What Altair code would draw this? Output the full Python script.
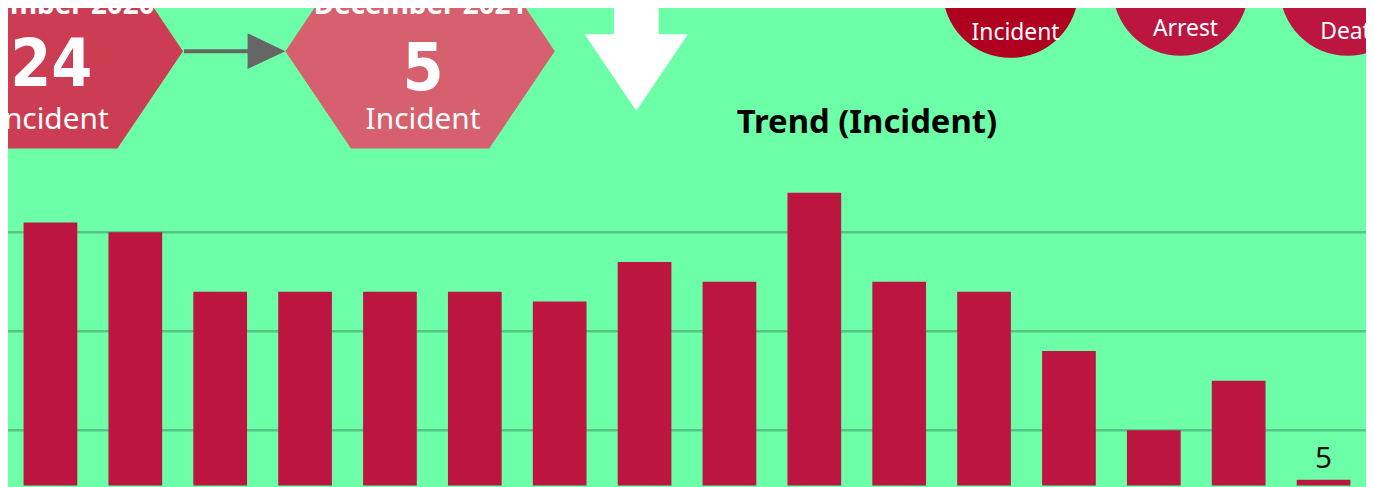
import altair as alt
import pandas as pd

# ---------------- data ----------------
months = ["Sep 2020", "Oct 2020", "Nov 2020", "Dec 2020", "Jan 2021", "Feb 2021",
          "Mar 2021", "Apr 2021", "May 2021", "Jun 2021", "Jul 2021", "Aug 2021",
          "Sep 2021", "Oct 2021", "Nov 2021", "Dec 2021"]
incidents = [31, 30, 24, 24, 24, 24, 23, 27, 25, 34, 25, 24, 18, 10, 15, 5]
grid_values = [10, 20, 30]

compare_months = ["December 2020", "December 2021"]
compare_counts = [24, 5]
compare_unit = "Incident"

total_labels = ["Incident", "Arrest", "Death"]
total_values = [234, 332, 52]

chart_title = "Trend (Incident)"

# ---------------- layout helpers ----------------
W, H = 1366, 479          # whole svg (page margin is 8px)
M = 8


def px(x):
    return alt.value(x - M)


def py(y):
    return alt.value(y - M)


BG = "#6DFFA8"
BAR = "#BC1640"
GRID = "#55C484"
WHITE = "#FFFFFF"
NUMFONT = "'DejaVu Sans Condensed', 'Liberation Sans Narrow', 'Liberation Sans', sans-serif"

bars_df = pd.DataFrame({"month": months, "incidents": incidents})
grid_df = pd.DataFrame({"v": grid_values})
hex_df = pd.DataFrame({"month": compare_months, "count": compare_counts,
                       "unit": [compare_unit] * len(compare_months)})
tot_df = pd.DataFrame({"label": total_labels, "value": total_values})

# y scale: baseline lies below the visible area
PPU = 9.96
BASE = 523.0
yscale = alt.Scale(domain=[(BASE - H) / PPU, BASE / PPU], nice=False, zero=False)
xscale = alt.Scale(paddingInner=0.367, paddingOuter=0.1835)

X = alt.X("month:N", sort=months, scale=xscale, axis=None)

grid = alt.Chart(grid_df).mark_rule(color=GRID, strokeWidth=2.5).encode(
    y=alt.Y("v:Q", scale=yscale, axis=None)
)

bars = alt.Chart(bars_df).mark_bar(color=BAR, clip=True).encode(
    x=X,
    y=alt.Y("incidents:Q", scale=yscale, axis=None),
    y2=alt.datum(0),
)

last_label = alt.Chart(bars_df).transform_filter(
    alt.datum.month == months[-1]
).mark_text(font="Noto Sans", fontSize=30, dy=-12, baseline="alphabetic",
            color="#111111").encode(
    x=X,
    y=alt.Y("incidents:Q", scale=yscale, axis=None),
    text="incidents:Q",
)

title = alt.Chart(pd.DataFrame({"t": [chart_title]})).mark_text(
    font="Noto Sans", fontSize=33, fontWeight="bold", color="#000000",
    baseline="alphabetic", align="center"
).encode(x=px(872), y=py(132), text="t:N")

# ---------------- hexagons ----------------
HEX = "M -1 0 L -0.513 -0.723 L 0.513 -0.723 L 1 0 L 0.513 0.723 L -0.513 0.723 Z"
hex_layers = []
hex_specs = [(48.5, "#CC3C52", 85), (422.5, "#D6606E", 89)]
for i, (cx, col, numbase) in enumerate(hex_specs):
    d = hex_df.iloc[[i]]
    base = alt.Chart(d)
    hex_layers.append(base.mark_point(shape=HEX, filled=True, size=73441, color=col,
                                      opacity=1, strokeWidth=0).encode(x=px(cx), y=py(50)))
    hex_layers.append(base.mark_text(font="Noto Sans", fontSize=28, fontWeight="bold",
                                     color=WHITE, baseline="alphabetic").encode(
        x=px(cx), y=py(13), text="month:N"))
    hex_layers.append(base.mark_text(font=NUMFONT, fontSize=66,
                                     fontWeight="bold", color=WHITE,
                                     baseline="alphabetic").encode(
        x=px(cx + 3), y=py(numbase), text="count:Q"))
    hex_layers.append(base.mark_text(font="Noto Sans", fontSize=30, color=WHITE,
                                     baseline="alphabetic").encode(
        x=px(cx + 3), y=py(128), text="unit:N"))

# connecting arrow
arrow_line = alt.Chart(hex_df.iloc[[0]]).mark_rule(color="#666666", strokeWidth=4).encode(
    x=px(185), x2=px(255), y=py(50))
arrow_head = alt.Chart(hex_df.iloc[[0]]).mark_point(
    shape="M -1 -0.95 L 1 0 L -1 0.95 Z", filled=True, size=1444, color="#666666",
    opacity=1, strokeWidth=0).encode(x=px(268), y=py(50))

# big white down arrow
DOWN = ("M -0.433 -1.8 L 0.433 -1.8 L 0.433 -0.135 L 1 -0.135 L 0 1.346 "
        "L -1 -0.135 L -0.433 -0.135 Z")
down_arrow = alt.Chart(hex_df.iloc[[0]]).mark_point(
    shape=DOWN, filled=True, size=10816, color=WHITE, opacity=1, strokeWidth=0
).encode(x=px(640), y=py(40))

# ---------------- total circles ----------------
circ_layers = []
circ_specs = [(1016.5, -11.5, "#B0001F", 39), (1187.5, -13.5, BAR, 35), (1355.5, -13.5, BAR, 38)]
for i, (cx, cy, col, lb) in enumerate(circ_specs):
    d = tot_df.iloc[[i]]
    base = alt.Chart(d)
    circ_layers.append(base.mark_circle(size=18627, color=col, opacity=1).encode(
        x=px(cx), y=py(cy)))
    circ_layers.append(base.mark_text(font=NUMFONT, fontSize=54,
                                      fontWeight="bold", color=WHITE,
                                      baseline="alphabetic").encode(
        x=px(cx), y=py(5), text="value:Q"))
    circ_layers.append(base.mark_text(font="Noto Sans", fontSize=23, color=WHITE,
                                      baseline="alphabetic").encode(
        x=px(cx + 5), y=py(lb), text="label:N"))

chart = alt.layer(
    grid, bars, last_label, title,
    *hex_layers, arrow_line, arrow_head, down_arrow, *circ_layers
).properties(
    width=W, height=H, background=BG, padding=0,
    autosize=alt.AutoSizeParams(type="none"),
).configure_view(stroke=None)

chart.save("out.html", embed_options={"renderer": "svg", "actions": False})
